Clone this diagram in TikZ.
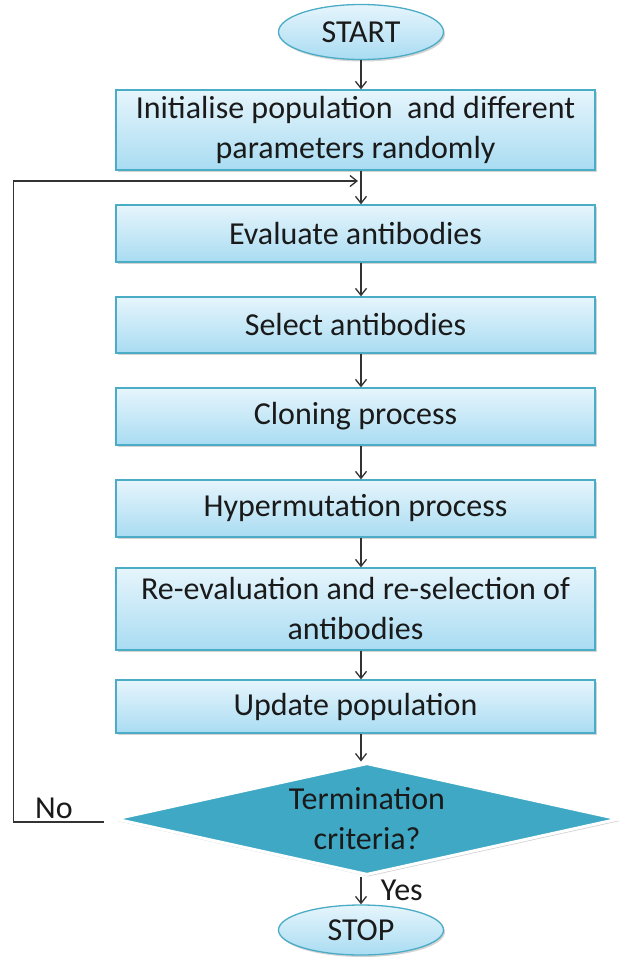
\documentclass[tikz,border=0pt]{standalone}
\usepackage{fontspec}
\setmainfont{Carlito}
\usetikzlibrary{shapes.geometric, shadows, arrows.meta}
\definecolor{boxline}{HTML}{4BACC6}
\definecolor{boxtop}{HTML}{E6F5FC}
\definecolor{boxbot}{HTML}{A9DCF2}
\definecolor{decide}{HTML}{3FA9C5}
\definecolor{ink}{HTML}{1A1A1A}
\definecolor{wire}{HTML}{333333}

\begin{document}
\begin{tikzpicture}[x=1pt, y=-1pt, >={Straight Barb[length=7pt,width=11pt]},
  every node/.style={font=\fontsize{32}{40}\selectfont, text=ink},
  process/.style={draw=boxline, line width=1.3pt, rectangle, minimum width=479pt,
    top color=boxtop, bottom color=boxbot, align=center,
    drop shadow={shadow xshift=1.5pt, shadow yshift=-2pt, opacity=0.35}},
  terminal/.style={draw=boxline, line width=1.3pt, ellipse, minimum width=165pt,
    top color=boxtop, bottom color=boxbot,
    drop shadow={shadow xshift=1.5pt, shadow yshift=-2pt, opacity=0.35}},
  decision/.style={draw=white, line width=3pt, diamond, fill=decide, inner sep=0pt,
    aspect=4.6, minimum width=504pt, minimum height=112pt, align=center,
    drop shadow={shadow xshift=1.5pt, shadow yshift=-2pt, opacity=0.35}},
  flow/.style={->, draw=wire, line width=1.3pt}]
\useasboundingbox (0,0) rectangle (629,958);

\node[terminal, minimum height=55pt] (start) at (361,32) {START};
\node[process, minimum height=80pt] (init) at (355.5,130) {Initialise population~ and different\\parameters randomly};
\node[process, minimum height=57pt] (evaluate) at (355.5,233.5) {Evaluate antibodies};
\node[process, minimum height=56pt] (select) at (355.5,325) {Select antibodies};
\node[process, minimum height=57pt] (clone) at (355.5,416.5) {Cloning process};
\node[process, minimum height=57pt] (hypermut) at (355.5,508.5) {Hypermutation process};
\node[process, minimum height=82pt] (reeval) at (355.5,609) {Re-evaluation and re-selection of\\antibodies};
\node[process, minimum height=53pt] (update) at (355.5,706.5) {Update population};
\node[decision] (term) at (367,819) {Termination\\criteria?};
\node[terminal, minimum height=50pt] (stop) at (361,930) {STOP};
\coordinate (loopin) at (358,181);

\draw[flow] (start) -- (start |- init.north);
\draw[flow] (start |- init.south) -- (start |- evaluate.north);
\draw[flow] (start |- evaluate.south) -- (start |- select.north);
\draw[flow] (start |- select.south) -- (start |- clone.north);
\draw[flow] (start |- clone.south) -- (start |- hypermut.north);
\draw[flow] (start |- hypermut.south) -- (start |- reeval.north);
\draw[flow] (start |- reeval.south) -- (start |- update.north);
\draw[flow] (start |- update.south) -- (start |- term.north);
\draw[flow] (stop |- term.south) -- node[right=16pt] {Yes} (stop);
\draw[flow] ([xshift=-10pt, yshift=-3pt]term.west) -- node[pos=0.55, above, inner sep=3pt] {No} ++(-90,0) |- (loopin);
\end{tikzpicture}
\end{document}
